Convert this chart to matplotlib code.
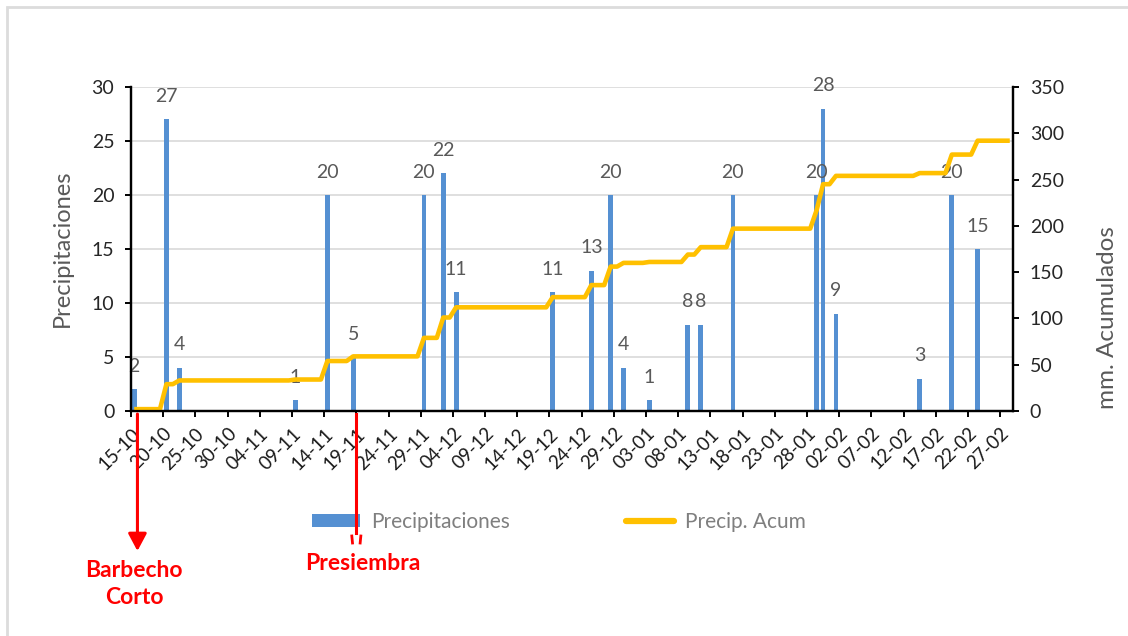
import numpy as np
import pandas as pd
import matplotlib
matplotlib.use("Agg")
import matplotlib.pyplot as plt
from matplotlib.lines import Line2D
from matplotlib.patches import Patch, FancyArrowPatch, Rectangle
from matplotlib.transforms import blended_transform_factory

plt.rcParams['font.family'] = ['Lato', 'DejaVu Sans']

# dias de lluvia (dd-mm) y milimetros caidos
fechas_lluvia = ['15-10', '20-10', '22-10', '09-11', '14-11', '18-11', '29-11',
                 '02-12', '04-12', '19-12', '25-12', '28-12', '30-12', '03-01',
                 '09-01', '11-01', '16-01', '29-01', '30-01', '01-02', '14-02',
                 '19-02', '23-02']
mm_lluvia = [2, 27, 4, 1, 20, 5, 20, 22, 11, 11, 13, 20, 4, 1, 8, 8, 20, 20, 28,
             9, 3, 20, 15]

inicio = '2018-10-15'
fin = '2019-02-28'

dias = pd.date_range(inicio, fin, freq='D')
etiquetas = dias.strftime('%d-%m')
diario = pd.Series(0.0, index=etiquetas)
diario[fechas_lluvia] = mm_lluvia
acumulado = diario.cumsum()

x = np.arange(len(dias)) + 0.5

AZUL = '#5590D2'
AMARILLO = '#FFC000'
GRIS = '#595959'
ROJO = '#FF0000'

fig = plt.figure(figsize=(11.28, 6.36), dpi=100)
ax = fig.add_axes([131 / 1128, 1 - 411 / 636, (1013 - 131) / 1128, (411 - 87) / 636])
ax2 = ax.twinx()

barras = ax.bar(x, diario.values, width=0.75, color=AZUL, zorder=2)
for xi, v in zip(x, diario.values):
    if v > 0:
        ax.annotate(f'{int(v)}', (xi, v), xytext=(0, 16.5), textcoords='offset points',
                    ha='center', va='center', fontsize=14, color=GRIS)

linea, = ax2.plot(x, acumulado.values, color=AMARILLO, lw=3.3,
                  solid_joinstyle='round', solid_capstyle='butt')

ax.set_xlim(0, len(dias))
ax.set_ylim(0, 30)
ax2.set_ylim(0, 350)
ax.set_yticks(range(0, 31, 5))
ax2.set_yticks(range(0, 351, 50))
ax.set_xticks(np.arange(0, len(dias), 5))
ax.set_xticklabels(etiquetas[::5], rotation=45, ha='right', rotation_mode='anchor')

ax.set_axisbelow(True)
ax.grid(axis='y', color='#D9D9D9', lw=1.2)
for a in (ax, ax2):
    a.spines['top'].set_visible(False)
    for s in ('left', 'right', 'bottom'):
        a.spines[s].set_color('black')
        a.spines[s].set_linewidth(1.6)
ax.tick_params(axis='x', direction='out', length=4, width=1.4, pad=6,
               labelsize=13.5, colors='black', labelcolor='#1A1A1A')
ax.tick_params(axis='y', direction='out', length=4, width=1.4, pad=8,
               labelsize=14, labelcolor='#262626')
ax2.tick_params(axis='y', direction='out', length=4, width=1.4, pad=8,
                labelsize=14, labelcolor='#262626')

fig.text(62 / 1128, 1 - 248 / 636, 'Precipitaciones', rotation=90, ha='center',
         va='center', fontsize=17, color=GRIS)
fig.text(1108 / 1128, 1 - 318 / 636, 'mm. Acumulados', rotation=90, ha='center',
         va='center', fontsize=17.5, color=GRIS)

manejadores = [Patch(facecolor=AZUL, edgecolor='none'),
               Line2D([], [], color=AMARILLO, lw=4.5, solid_capstyle='round')]
fig.legend(manejadores, ['Precipitaciones', 'Precip. Acum'], ncol=2, loc='center',
           bbox_to_anchor=(559 / 1128, 1 - 522 / 636), frameon=False, fontsize=15,
           handlelength=2.3, handleheight=0.55, columnspacing=5.6, handletextpad=0.5,
           labelcolor='#7F7F7F')

# marcas de manejo debajo del eje de fechas
trans = blended_transform_factory(ax.transData, fig.transFigure)
def fy(py):
    return 1 - py / 636

flecha = FancyArrowPatch((1.0, fy(414)), (1.0, fy(551)), transform=trans,
                         arrowstyle='-|>,head_length=0.75,head_width=0.4',
                         mutation_scale=14, color=ROJO, lw=2.2, zorder=6,
                         shrinkA=0, shrinkB=0)
fig.add_artist(flecha)
fig.text(134 / 1128, fy(584), 'Barbecho\nCorto', ha='center', va='center',
         fontsize=16.5, fontweight='bold', color=ROJO, linespacing=1.3)

fig.add_artist(Line2D([35.0, 35.0], [fy(414), fy(533)], transform=trans,
                      color=ROJO, lw=2.2, zorder=6))
for dx in (-0.7, 0.7):
    fig.add_artist(Line2D([35.0 + dx, 35.0 + dx * 0.85], [fy(536), fy(543)],
                          transform=trans, color=ROJO, lw=2, zorder=6))
fig.text(363 / 1128, fy(563), 'Presiembra', ha='center', va='center',
         fontsize=16.5, fontweight='bold', color=ROJO)

fig.add_artist(Rectangle((7 / 1128, -0.2), 1.5, 1.2 - 7 / 636, transform=fig.transFigure,
                         fill=False, ec='#DCDCDC', lw=2))

fig.savefig('out.png', dpi=100)
